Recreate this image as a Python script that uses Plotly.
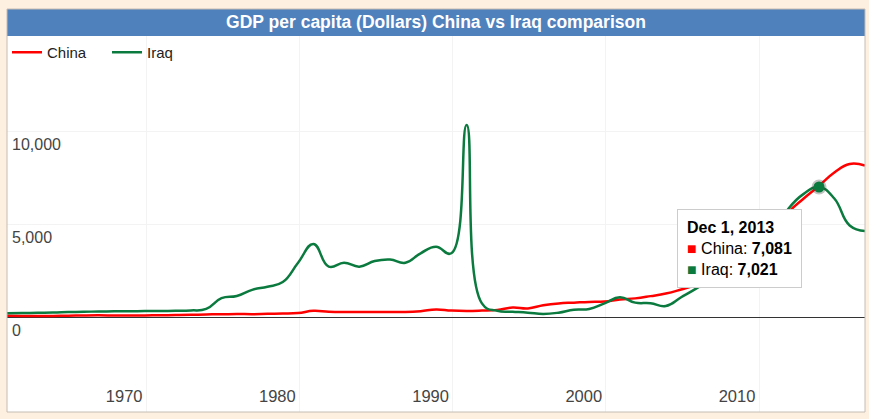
import plotly.graph_objects as go

# ---------------- data ----------------
years = list(range(1960, 2017))
china = [90, 76, 70, 74, 85, 98, 104, 96, 91, 100,
         112, 118, 131, 157, 160, 178, 165, 185, 200, 230,
         350, 300, 285, 290, 290, 290, 285, 330, 420, 360,
         340, 360, 400, 530, 480, 650, 750, 790, 830, 850,
         960, 1020, 1140, 1280, 1500, 1750, 2100, 2700, 3450, 3800,
         4500, 5650, 6400, 7081, 7800, 8260, 8170]
iraq = [215, 230, 245, 255, 280, 300, 310, 320, 325, 335,
        340, 350, 370, 450, 1030, 1150, 1480, 1650, 1900, 2940,
        3950, 2730, 2940, 2730, 3030, 3110, 2940, 3450, 3800, 3450,
        10360, 750, 350, 300, 250, 180, 250, 410, 450, 750,
        1080, 790, 760, 610, 1080, 1560, 2100, 2800, 3900, 3700,
        4500, 5850, 6650, 7021, 6400, 4950, 4650]
series_names = ["China", "Iraq"]
x_tick_years = [1970, 1980, 1990, 2000, 2010]
x_tick_labels = ["1970", "1980", "1990", "2000", "2010"]
y_tick_values = [0, 5000, 10000]
y_tick_labels = ["0", "5,000", "10,000"]
title_text = "GDP per capita (Dollars) China vs Iraq comparison"
highlight_year = 2013
highlight_label = "Dec 1, 2013"

# ---------------- styling ----------------
RED = "#ff0000"
GREEN = "#0b7a3e"
CREAM = "#fdf0e0"
FONT = "Arial, 'Liberation Sans', sans-serif"
W, H = 869, 419
ML, MR, MT, MB = 7, 4, 36, 7
plot_h = H - MT - MB
bar_h = 27

dates = [f"{y}-12-01" for y in years]
hi = years.index(highlight_year)
hi_date = dates[hi]

fig = go.Figure()
fig.add_trace(go.Scatter(x=dates, y=china, name=series_names[0], mode="lines",
                         line=dict(color=RED, width=2.5, shape="spline", smoothing=1.3)))
fig.add_trace(go.Scatter(x=dates, y=iraq, name=series_names[1], mode="lines",
                         line=dict(color=GREEN, width=2.5, shape="spline", smoothing=1.3)))
# highlighted point (halo + dot)
fig.add_trace(go.Scatter(x=[hi_date], y=[iraq[hi]], mode="markers", showlegend=False,
                         marker=dict(size=15, color="rgba(60,60,60,0.3)", line=dict(width=0))))
fig.add_trace(go.Scatter(x=[hi_date], y=[iraq[hi]], mode="markers", showlegend=False,
                         marker=dict(size=11, color=GREEN, line=dict(width=0))))

tooltip = (f"<b>{highlight_label}</b><br>"
           f"<span style='color:{RED}'>■</span> {series_names[0]}: <b>{china[hi]:,}</b><br>"
           f"<span style='color:{GREEN}'>■</span> {series_names[1]}: <b>{iraq[hi]:,}</b>")
fig.add_annotation(x=hi_date, y=iraq[hi], xref="x", yref="y", text=tooltip,
                   showarrow=False, xanchor="left", yanchor="top", align="left",
                   xshift=-142, yshift=-22,
                   font=dict(family=FONT, size=16, color="#000000"),
                   bgcolor="#ffffff", bordercolor="#cccccc", borderwidth=1, borderpad=9)

top = 1 + bar_h / plot_h
fig.add_shape(type="rect", xref="paper", yref="paper", x0=0, x1=1, y0=1, y1=top,
              fillcolor="#4f81bd", line=dict(width=0), layer="below")
fig.add_shape(type="rect", xref="paper", yref="paper", x0=0, x1=1, y0=0, y1=top,
              fillcolor="rgba(0,0,0,0)", line=dict(color="#c4bcb2", width=1), layer="above")

fig.update_layout(
    width=W, height=H, autosize=False,
    margin=dict(l=ML, r=MR, t=MT, b=MB, pad=0),
    paper_bgcolor=CREAM, plot_bgcolor="#ffffff",
    font=dict(family=FONT, size=15, color="#444444"),
    title=dict(text=f"<b>{title_text}</b>", x=0.5, xref="paper", xanchor="center",
               y=1 - 22 / H, yref="container", yanchor="middle",
               font=dict(family=FONT, size=17.5, color="#ffffff")),
    showlegend=True,
    legend=dict(orientation="h", x=0, xanchor="left", y=1, yanchor="top",
                font=dict(family=FONT, size=15, color="#222222"),
                bgcolor="rgba(0,0,0,0)", itemwidth=30, traceorder="normal",
                entrywidth=55, entrywidthmode="pixels"),
    xaxis=dict(type="date", range=[dates[0], dates[-1]],
               tickvals=[f"{y}-01-01" for y in x_tick_years], ticktext=x_tick_labels,
               showgrid=True, gridcolor="#f3f3f3", gridwidth=1, zeroline=False, showline=False,
               ticks="", ticklabelposition="inside", ticklabelshift=-22, ticklabelstandoff=4,
               tickfont=dict(family=FONT, size=16.5, color="#444444")),
    yaxis=dict(range=[-(412 - 317.3) * 5000 / 92.8, (317.3 - 36) * 5000 / 92.8],
               tickvals=y_tick_values, ticktext=y_tick_labels,
               showgrid=True, gridcolor="#f3f3f3", gridwidth=1,
               zeroline=True, zerolinecolor="#333333", zerolinewidth=1, showline=False,
               ticks="", ticklabelposition="inside", ticklabelshift=13, ticklabelstandoff=2,
               tickfont=dict(family=FONT, size=16, color="#444444")),
)

fig.write_html("out.html", config={"displayModeBar": False},
               post_script="document.body.style.margin='0';"
                           "document.body.style.background='" + CREAM + "';")
